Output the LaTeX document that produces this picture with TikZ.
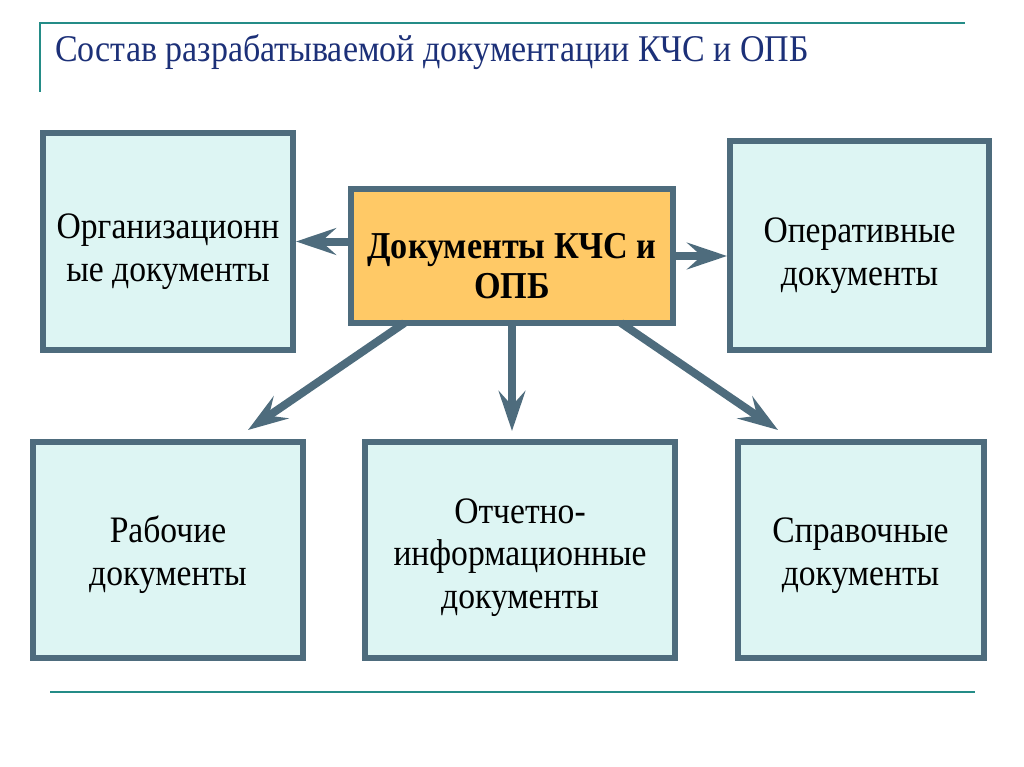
\documentclass[tikz,border=0pt]{standalone}
\usepackage{fontspec}
\setmainfont[FakeStretch=0.9]{Liberation Serif}
\usetikzlibrary{arrows.meta}
\definecolor{framegray}{RGB}{78,108,125}
\definecolor{boxcyan}{RGB}{221,245,243}
\definecolor{boxorange}{RGB}{255,201,102}
\definecolor{ruleteal}{RGB}{36,140,135}
\definecolor{titleblue}{RGB}{28,48,120}
\newcommand\topgap[1][34pt]{\rule{0pt}{#1}\ignorespaces}
\begin{document}
\begin{tikzpicture}[x=0.75pt, y=-0.75pt,
    docbox/.style={draw=framegray, line width=4.5pt, fill=boxcyan, align=center,
      inner sep=0pt, font=\fontsize{28}{32}\selectfont},
    mainbox/.style={docbox, fill=boxorange, font=\fontsize{28.5}{29.5}\selectfont\bfseries},
    link/.style={draw=framegray, line width=6pt, shorten <=-4pt,
      -{Stealth[length=30pt, width=20pt, inset=11pt]}},
    rule/.style={draw=ruleteal, line width=2.2pt}]
  \useasboundingbox (0,0) rectangle (1024,767);
  % title and rules
  \draw[rule] (40,92) -- (40,23) -- (965,23);
  \node[anchor=base west, inner sep=0pt, text=titleblue, font=\fontsize{28.3}{30}\selectfont]
    (title) at (55,62) {Состав разрабатываемой документации КЧС и ОПБ};
  \draw[rule] (50,692) -- (975,692);
  % boxes
  \node[mainbox, minimum width=241.5pt, minimum height=100.5pt] (kchs) at (512,256) {\topgap Документы КЧС и\\ОПБ};
  \node[docbox, minimum width=187.5pt, minimum height=162.75pt] (org) at (168,241.5) {\topgap Организационн\\ые документы};
  \node[docbox, minimum width=194.25pt, minimum height=156.75pt] (oper) at (859.5,245.5) {\topgap Оперативные\\документы};
  \node[docbox, minimum width=202.5pt, minimum height=162pt] (rab) at (168,550) {\topgap[27pt] Рабочие\\документы};
  \node[docbox, minimum width=232.5pt, minimum height=162pt] (otch) at (520,550) {\topgap[30pt] Отчетно-\\информационные\\документы};
  \node[docbox, minimum width=184.5pt, minimum height=162pt] (sprav) at (860.5,550) {\topgap[27pt] Справочные\\документы};
  % arrows
  \coordinate (rabtip) at (248,430);
  \coordinate (spravtip) at (778,430);
  \draw[link] (kchs.west |- org.east) -- (org.east);
  \draw[link] (kchs.east) -- (kchs.east -| oper.west);
  \draw[link, shorten >=6pt] (kchs.south) -- (kchs.south |- otch.north);
  \draw[link] ([xshift=39pt]kchs.south west) -- (rabtip);
  \draw[link] ([xshift=-38pt]kchs.south east) -- (spravtip);
\end{tikzpicture}
\end{document}
